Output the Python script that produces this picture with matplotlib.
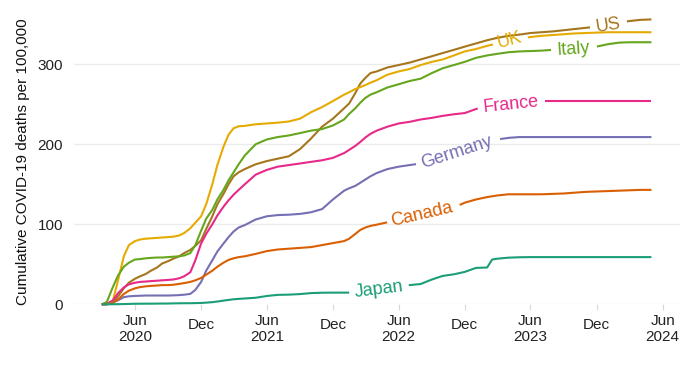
import numpy as np
import pandas as pd
import matplotlib
matplotlib.use('Agg')
import matplotlib.pyplot as plt
import matplotlib.dates as mdates
import matplotlib.transforms as mtransforms

plt.rcParams['font.family'] = ['Liberation Sans', 'DejaVu Sans']

## Readings: twice a month through the steep waves, monthly otherwise
dates = pd.to_datetime([
    '2020-03-01', '2020-03-15', '2020-04-01', '2020-04-15', '2020-05-01', '2020-05-15',
    '2020-06-01', '2020-06-15', '2020-07-01', '2020-07-15', '2020-08-01', '2020-08-15',
    '2020-09-01', '2020-09-15', '2020-10-01', '2020-10-15', '2020-11-01', '2020-11-15',
    '2020-12-01', '2020-12-15',
    '2021-01-01', '2021-01-15', '2021-02-01', '2021-02-15', '2021-03-01', '2021-03-15',
    '2021-04-01', '2021-05-01', '2021-06-01', '2021-07-01', '2021-08-01', '2021-09-01',
    '2021-10-01', '2021-11-01', '2021-12-01',
    '2022-01-01', '2022-01-15', '2022-02-01', '2022-02-15', '2022-03-01', '2022-03-15',
    '2022-04-01', '2022-05-01', '2022-06-01', '2022-07-01', '2022-08-01', '2022-09-01',
    '2022-10-01', '2022-11-01', '2022-12-01',
    '2023-01-01', '2023-02-01', '2023-02-15', '2023-03-01', '2023-04-01', '2023-05-01',
    '2023-06-01', '2023-07-01', '2023-08-01', '2023-09-01', '2023-10-01', '2023-11-01',
    '2023-12-01',
    '2024-01-01', '2024-02-01', '2024-03-01', '2024-04-01', '2024-05-01'])

us = [0, 0.5, 2, 10, 20, 27, 32, 35, 38, 42, 46, 51, 54, 57, 60, 64, 68, 73, 80, 94,
      110, 125, 138, 150, 160, 165, 169, 175, 179, 182, 185, 194, 207, 222, 232,
      245, 251, 264, 276, 283, 289, 291, 296, 299, 302, 306, 310, 314, 318, 322,
      326, 330, 331.5, 333, 335.5, 337, 339, 340, 341, 342.5, 344, 345.5, 347,
      350, 352, 354, 355.5, 356]
uk = [0, 0.5, 5, 30, 60, 74, 79, 81, 82, 82.5, 83, 83.5, 84, 84.5, 86, 89, 95, 102, 110, 125,
      150, 174, 197, 212, 220, 222.5, 223, 225, 226, 227, 228.5, 232, 240, 246.5, 254,
      262, 265, 269, 271.5, 274, 277, 280, 287, 291, 294, 299, 303, 306, 311, 316,
      319, 323, 324.5, 326, 329, 332, 334, 335.5, 336.5, 337.5, 338.5, 339, 339.5,
      340, 340, 340, 340, 340]
italy = [0, 3, 22, 36, 47, 52, 56, 56.5, 57.5, 58, 58.5, 58.5, 59, 59.5, 60, 61, 64, 74, 92, 107,
         118, 131, 143, 155, 165, 175, 186, 200, 206, 209, 211, 214, 217, 219, 223.5,
         231, 238, 245, 252, 258, 262, 265, 271, 275, 279, 282, 289, 295, 299, 303,
         308, 311, 312, 313, 315, 316, 316.5, 317, 318, 319, 320, 321, 322,
         325, 327, 327.5, 327.5, 327.5]
france = [0, 0.3, 5, 14, 21, 25, 27, 28, 28.5, 29, 29.5, 30, 30.5, 31, 32.5, 35, 40, 55, 76, 88,
          100, 111, 122, 130, 137, 143, 150, 162, 168, 172, 174, 176, 178, 180, 183,
          189, 193, 198, 203, 208.5, 213, 217, 222, 226, 228, 231, 233, 235.5, 237.5, 239,
          244, 248, 250, 252, 253.5, 254, 254, 254, 254, 254, 254, 254, 254,
          254, 254, 254, 254, 254]
germany = [0, 0, 3, 5, 9, 10, 10.5, 10.7, 11, 11, 11, 11, 11, 11.2, 11.5, 12, 13, 18, 28, 42,
           55, 66, 76, 84, 91, 96, 99, 106, 110, 111.5, 112, 113, 115, 119, 131,
           142, 145, 148, 152, 156, 160, 164, 169, 172, 174, 176, 180, 185, 190, 194,
           199, 203, 204.5, 206, 208, 209, 209, 209, 209, 209, 209, 209, 209,
           209, 209, 209, 209, 209]
canada = [0, 0, 2, 6, 13, 17, 20, 21.5, 22.5, 23, 23.5, 24, 24, 24.5, 25.5, 26.5, 28, 30, 33, 37,
          42, 47, 52, 55.5, 57.5, 59, 60, 63, 66.5, 68.5, 69.5, 70.5, 71.5, 74, 76.5,
          79, 82, 88, 93, 96, 98, 99.5, 102.5, 106, 109, 112, 115, 118, 121, 127,
          131, 134, 135, 136, 137.5, 137.5, 137.5, 137.5, 138, 138.5, 139.5, 140.5, 141,
          141.5, 142, 142.5, 143, 143]
japan = [0, 0, 0.1, 0.2, 0.3, 0.5, 0.7, 0.75, 0.8, 0.8, 0.9, 0.95, 1.0, 1.15, 1.3, 1.35, 1.4, 1.5, 1.7, 2.1,
         2.7, 3.5, 4.6, 5.5, 6.3, 6.8, 7.3, 8.2, 10.4, 11.8, 12.1, 12.8, 14, 14.5, 14.6,
         14.6, 14.6, 15, 16.5, 18.5, 20.5, 22, 23.2, 23.5, 24, 25.4, 31, 35.5, 37.5, 40.5,
         45.5, 46, 56, 57, 58.3, 58.8, 59, 59, 59, 59, 59, 59, 59,
         59, 59, 59, 59, 59]

countries = ['US', 'UK', 'Italy', 'France', 'Germany', 'Canada', 'Japan']
series = [us, uk, italy, france, germany, canada, japan]
colors = ['#a6761d', '#e6ab02', '#66a61e', '#e7298a', '#7570b3', '#d95f02', '#1b9e77']

## label placement on the line: centre date, centre value, angle, gap start, gap end
labels = {
    'US':      ('2024-01-02', 348, 9, '2023-11-13', '2024-02-23'),
    'UK':      ('2023-04-05', 330, 15, '2023-02-17', '2023-05-25'),
    'Italy':   ('2023-09-27', 318, 4, '2023-07-28', '2023-12-02'),
    'France':  ('2023-04-08', 249, 6, '2023-01-06', '2023-07-11'),
    'Germany': ('2022-11-09', 190, 18, '2022-07-19', '2023-03-09'),
    'Canada':  ('2022-08-05', 112, 13, '2022-04-30', '2022-11-17'),
    'Japan':   ('2022-04-08', 19, 7, '2022-01-15', '2022-06-29'),
}

fig = plt.figure(figsize=(7, 3.67), dpi=100)
ax = fig.add_axes([0.1057, 0.1708, 0.8657, 0.8155])

xn = mdates.date2num(dates)
for name, vals, col in zip(countries, series, colors):
    y = np.array(vals, dtype=float)
    cd, cv, rot, g0, g1 = labels[name]
    g0 = mdates.date2num(pd.Timestamp(g0))
    g1 = mdates.date2num(pd.Timestamp(g1))
    left = xn < g0
    right = xn > g1
    # line is broken where the label sits
    ax.plot(np.r_[xn[left], g0], np.r_[y[left], np.interp(g0, xn, y)],
            color=col, lw=1.5, clip_on=False, solid_capstyle='butt')
    ax.plot(np.r_[g1, xn[right]], np.r_[np.interp(g1, xn, y), y[right]],
            color=col, lw=1.5, clip_on=False, solid_capstyle='butt')
    ax.text(mdates.date2num(pd.Timestamp(cd)), cv, name, color=col, fontsize=13,
            rotation=rot, rotation_mode='anchor', ha='center', va='center')

## Axes
t0 = mdates.date2num(pd.Timestamp('2020-06-01'))
ax.set_xlim(t0 - 169, t0 + 1509)
ax.set_ylim(0, 374)

ticks = pd.to_datetime(['2020-06-01', '2020-12-01', '2021-06-01', '2021-12-01', '2022-06-01',
                        '2022-12-01', '2023-06-01', '2023-12-01', '2024-06-01'])
tick_labels = ['Jun\n2020', 'Dec', 'Jun\n2021', 'Dec', 'Jun\n2022', 'Dec', 'Jun\n2023', 'Dec', 'Jun\n2024']
ax.set_xticks(mdates.date2num(ticks))
ax.set_xticklabels(tick_labels)
ax.set_yticks([0, 100, 200, 300])

for s in ax.spines.values():
    s.set_visible(False)
ax.grid(axis='y', color='#ebebeb', lw=1.0)
ax.set_axisbelow(True)
ax.tick_params(axis='x', length=4, width=0.8, color='#d9d9d9', pad=3, labelsize=11, labelcolor='#222222')
ax.tick_params(axis='y', length=0, pad=8, labelsize=11, labelcolor='#222222')
ax.set_ylabel('Cumulative COVID-19 deaths per 100,000', fontsize=11, color='#111111')
ax.yaxis.set_label_coords(-0.073, 0.475)

# single-line "Dec" labels sit a little lower than the two-line ones
shift = mtransforms.ScaledTranslation(0, -4 / 100, fig.dpi_scale_trans)
for lbl in ax.get_xticklabels():
    if lbl.get_text() == 'Dec':
        lbl.set_transform(lbl.get_transform() + shift)

fig.savefig('out.png', dpi=100)
